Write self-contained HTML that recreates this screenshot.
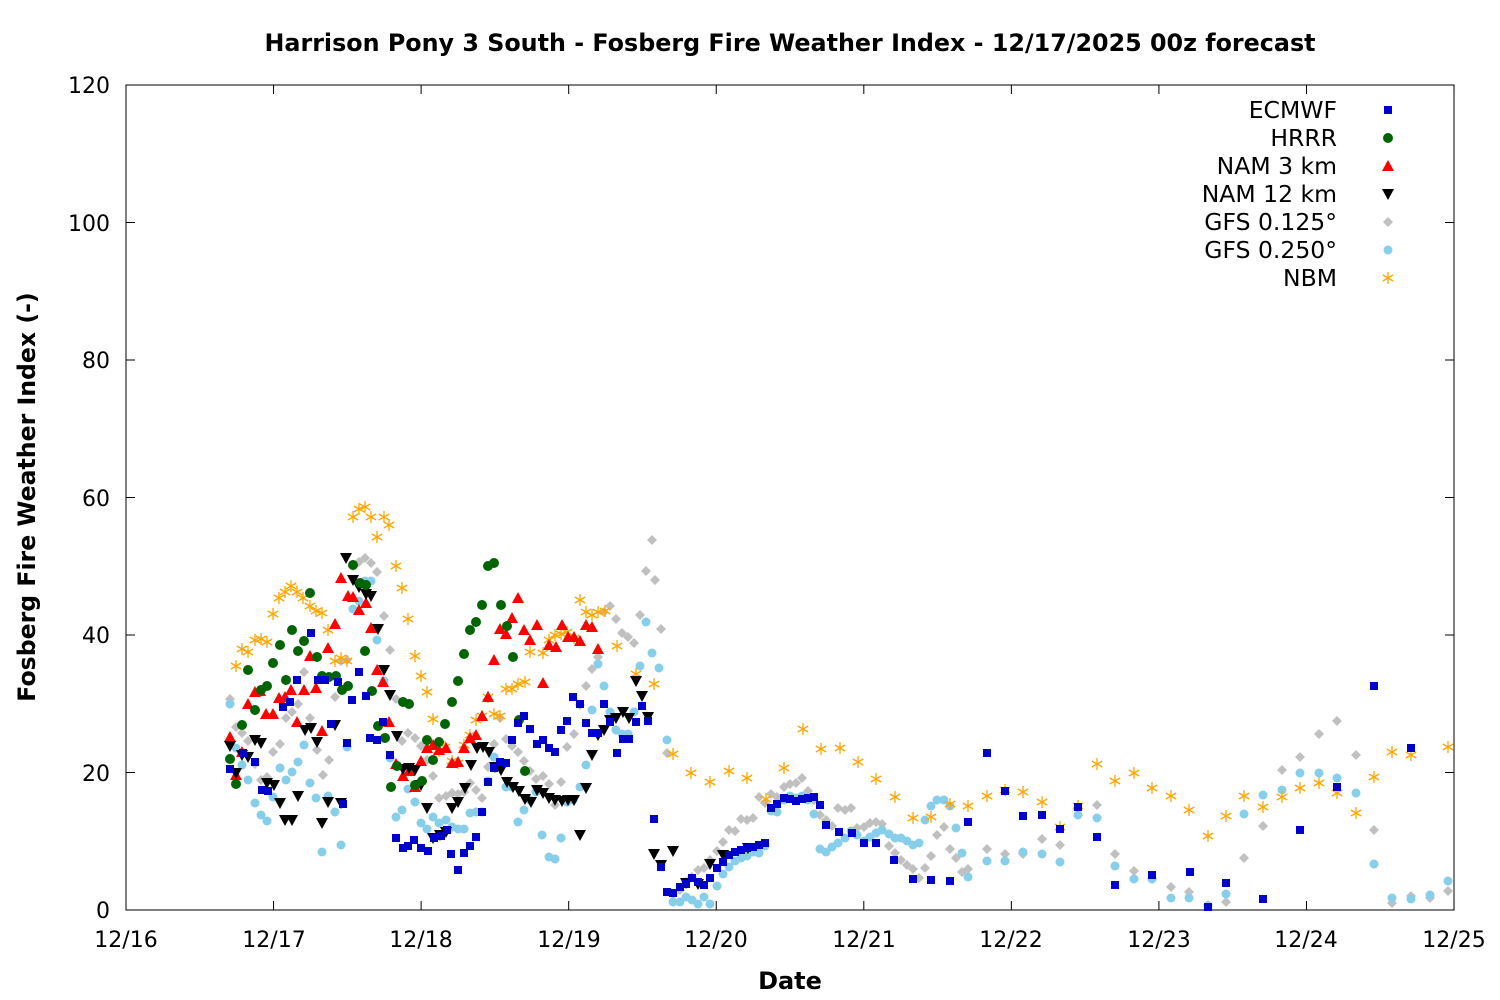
<!DOCTYPE html>
<html><head><meta charset="utf-8"><style>
html,body{margin:0;padding:0;background:#fff}
svg{display:block}
text{font-family:"DejaVu Sans","Liberation Sans",sans-serif;fill:#000}
</style></head><body>
<svg id="s" width="1500" height="1000" viewBox="0 0 1500 1000" xmlns="http://www.w3.org/2000/svg">
<rect width="1500" height="1000" fill="#fff"/>
<text x="790" y="51" font-size="23.8" font-weight="bold" text-anchor="middle">Harrison Pony 3 South - Fosberg Fire Weather Index - 12/17/2025 00z forecast</text>
<rect x="126" y="85" width="1328" height="825" fill="none" stroke="#000" stroke-width="1"/>
<g font-size="22" text-anchor="end">
<text x="110" y="918">0</text><text x="110" y="781">20</text><text x="110" y="643">40</text>
<text x="110" y="506">60</text><text x="110" y="368">80</text><text x="110" y="231">100</text><text x="110" y="93">120</text>
</g>
<g font-size="22" text-anchor="middle">
<text x="126" y="947">12/16</text><text x="274" y="947">12/17</text><text x="421" y="947">12/18</text>
<text x="569" y="947">12/19</text><text x="716" y="947">12/20</text><text x="864" y="947">12/21</text>
<text x="1011" y="947">12/22</text><text x="1159" y="947">12/23</text><text x="1306" y="947">12/24</text>
<text x="1454" y="947">12/25</text>
</g>
<text x="790" y="989" font-size="24" font-weight="bold" text-anchor="middle">Date</text>
<text transform="translate(35,497) rotate(-90)" font-size="23.6" font-weight="bold" text-anchor="middle">Fosberg Fire Weather Index (-)</text>
<g id="ticks" stroke="#000" stroke-width="1"></g>
<g font-size="23.5" text-anchor="end">
<text x="1337" y="118">ECMWF</text><text x="1337" y="146">HRRR</text><text x="1337" y="174">NAM 3 km</text>
<text x="1337" y="202">NAM 12 km</text><text x="1337" y="230">GFS 0.125°</text><text x="1337" y="258">GFS 0.250°</text>
<text x="1337" y="286">NBM</text>
</g>
<g id="pts"></g>
</svg>
<script>
var ns="http://www.w3.org/2000/svg";
var tk=document.getElementById('ticks');
function ln(x1,y1,x2,y2){var l=document.createElementNS(ns,'line');l.setAttribute('x1',x1);l.setAttribute('y1',y1);l.setAttribute('x2',x2);l.setAttribute('y2',y2);tk.appendChild(l);}
for(var i=0;i<=6;i++){var y=910-i*137.5;ln(126,y,135,y);ln(1454,y,1445,y);}
for(var i=0;i<=9;i++){var x=126+i*147.56;ln(x,910,x,901);ln(x,85,x,94);}
var G=document.getElementById('pts');
function el(t,a){var e=document.createElementNS(ns,t);for(var k in a)e.setAttribute(k,a[k]);G.appendChild(e);}
function P(s){var a=s.split(/[\s,]+/).filter(Boolean).map(Number);var r=[];for(var i=0;i<a.length;i+=2)r.push([a[i],a[i+1]]);return r;}
var M={
sq:function(x,y,c){el('rect',{x:x-4,y:y-4,width:8,height:8,fill:c});},
ci:function(x,y,c){el('circle',{cx:x,cy:y,r:5,fill:c});},
tu:function(x,y,c){el('polygon',{points:(x)+','+(y-6)+' '+(x-6)+','+(y+5)+' '+(x+6)+','+(y+5),fill:c});},
td:function(x,y,c){el('polygon',{points:(x)+','+(y+6)+' '+(x-6)+','+(y-5)+' '+(x+6)+','+(y-5),fill:c});},
di:function(x,y,c){el('polygon',{points:x+','+(y-5)+' '+(x+5)+','+y+' '+x+','+(y+5)+' '+(x-5)+','+y,fill:c});},
hx:function(x,y,c){el('circle',{cx:x,cy:y,r:4.5,fill:c});},
st:function(x,y,c){var a={stroke:c,'stroke-width':1.3};
 [[0,-6,0,6],[-5.2,-3,5.2,3],[-5.2,3,5.2,-3]].forEach(function(d){el('line',Object.assign({x1:x+d[0],y1:y+d[1],x2:x+d[2],y2:y+d[3]},a));});}
};
var S=[
['di','#c0c0c0',"230,699 236,727 242,733 248,741 255,764 261,780 267,777 273,752 280,744 286,718 292,712 298,704 304,672 310,718 317,750 323,775 329,760 335,697 341,661 347,660 353,566 359,562 365,558 371,563 377,572 384,616 390,650 396,699 402,741 408,733 415,738 421,746 427,760 433,776 439,798 446,796 452,793 458,794 464,792 470,783 476,790 482,798 488,767 494,744 500,718 506,739 512,746 518,752 524,761 530,771 536,779 543,776 549,784 555,805 561,782 567,747 574,734 580,705 586,686 592,669 598,657 604,612 610,606 616,619 622,633 628,637 634,643 640,615 646,571 652,540 655,580 661,629 667,753 673,894 680,890 686,882 692,877 698,870 704,868 710,860 717,851 723,842 729,830 735,831 741,819 747,820 753,818 759,797 765,803 771,794 777,797 784,787 790,784 796,783 802,778 808,791 814,800 820,815 826,820 832,826 838,808 845,810 851,808 857,828 864,827 870,823 876,822 882,824 889,846 895,853 901,860 907,865 913,869 919,878 925,868 931,856 937,835 944,827 950,849 956,858 962,872 968,869 987,849 1005,854 1023,854 1042,839 1060,845 1078,808 1097,805 1115,854 1134,871 1152,879 1171,887 1189,892 1208,905 1226,902 1244,858 1263,826 1282,770 1300,757 1319,734 1337,721 1356,755 1374,830 1392,903 1411,896 1430,898 1448,891"],
['hx','#87ceeb',"230,704 236,748 242,765 248,780 255,803 261,815 267,821 273,797 280,768 286,780 292,772 298,762 304,745 310,783 316,798 322,852 328,796 335,812 341,845 347,747 353,609 359,601 365,581 371,581 377,640 384,681 390,758 396,817 402,810 408,789 415,802 421,823 427,829 433,817 439,823 446,820 452,827 458,829 464,829 470,813 476,812 482,812 488,781 494,757 500,767 506,787 512,787 518,822 524,810 530,800 536,792 542,835 549,857 555,859 561,838 567,802 573,800 580,787 586,765 592,710 598,664 604,686 610,712 616,730 622,734 628,734 634,712 640,666 646,622 652,653 659,668 667,740 673,902 680,902 686,897 692,900 698,904 704,897 710,904 717,886 723,874 729,867 735,861 741,858 747,856 753,852 759,853 765,846 771,811 777,812 784,800 790,796 796,798 802,796 808,800 814,814 820,849 826,852 832,847 838,843 845,838 851,831 857,835 864,841 870,837 876,833 882,830 889,834 895,838 901,838 907,841 913,845 919,843 925,820 931,806 937,800 944,800 950,806 956,828 962,853 968,877 987,861 1005,861 1023,852 1042,854 1060,862 1078,815 1097,818 1115,866 1134,879 1152,879 1171,898 1189,898 1208,906 1226,894 1244,814 1263,795 1282,790 1300,773 1319,773 1337,778 1356,793 1374,864 1392,898 1411,899 1430,895 1448,881"],
['st','#ffa500',"236,666 242,649 248,652 255,640 261,639 267,642 273,614 279,598 285,592 291,586 297,592 303,598 310,606 316,611 322,613 328,630 335,661 341,658 347,661 353,517 359,509 365,507 371,517 377,537 384,517 389,525 396,566 402,588 408,619 415,656 421,676 427,692 433,719 439,751 445,747 452,761 458,763 464,745 470,735 476,720 482,716 488,697 494,714 500,716 506,689 512,689 518,684 525,682 530,652 543,653 549,640 555,635 561,634 567,632 574,638 580,600 586,612 592,615 598,612 605,611 617,646 636,674 654,684 673,754 691,773 710,782 729,771 747,778 766,799 784,768 803,729 821,749 840,748 858,762 876,779 895,797 913,818 931,817 950,804 968,806 987,796 1005,790 1023,792 1042,802 1060,827 1078,806 1097,764 1115,781 1134,773 1152,788 1171,796 1189,810 1208,836 1226,816 1244,796 1263,807 1282,797 1300,788 1319,783 1337,793 1356,813 1374,777 1392,752 1411,755 1448,747"],
['tu','#ff0000',"230,737 236,775 242,752 248,704 255,692 260,691 266,714 273,714 279,698 285,697 291,690 297,722 304,690 310,656 316,688 322,731 328,648 335,624 341,578 348,596 353,597 359,610 366,603 371,628 377,670 383,682 389,722 396,764 403,776 409,771 415,787 421,761 427,748 433,745 439,750 446,748 452,763 458,762 464,748 470,738 476,735 482,716 488,697 494,660 500,629 506,634 512,618 518,598 524,630 530,640 537,625 543,683 549,645 556,647 562,625 568,637 574,637 580,641 586,625 592,627 598,649"],
['td','#000000',"230,746 236,773 242,755 248,757 255,740 261,743 267,783 274,785 280,803 285,820 292,820 298,796 305,730 311,728 317,742 322,823 328,802 335,725 341,803 346,558 353,580 359,587 366,594 371,596 378,629 384,670 390,695 397,736 403,769 409,768 415,770 421,785 427,808 433,838 440,835 446,832 452,808 458,802 465,788 471,765 477,748 483,747 489,752 495,767 501,770 507,782 513,787 519,791 525,799 531,802 537,790 543,793 549,798 555,800 562,801 568,800 574,800 580,835 586,788 592,755 598,735 604,730 610,720 616,718 623,712 629,718 636,681 642,696 648,717 654,854 661,865 673,851 686,883 698,884 710,864 723,855 748,848"],
['ci','#006400',"230,759 236,784 242,725 248,670 255,710 261,690 267,686 273,663 280,645 286,680 292,630 298,651 304,641 310,593 317,657 322,676 329,677 336,676 342,690 348,686 353,565 360,583 366,585 365,651 372,691 378,726 385,738 391,787 397,766 403,702 409,704 415,785 422,781 427,740 433,760 439,742 445,724 452,702 458,681 464,654 470,630 476,622 482,605 488,566 494,563 501,605 507,626 513,657 519,720 525,771"],
['sq','#0000cc',"230,769 243,753 255,762 262,790 268,791 283,707 290,702 297,680 311,633 318,680 325,680 331,724 338,682 343,804 347,743 352,700 359,672 366,696 370,738 377,740 383,722 390,755 396,838 403,848 408,846 414,840 421,848 428,851 434,838 441,836 447,830 451,854 458,870 464,853 470,846 476,837 482,812 488,782 494,768 500,762 506,763 512,740 518,723 524,716 530,729 537,744 543,740 549,748 555,752 561,730 567,721 573,697 580,704 586,723 592,733 598,733 604,704 610,722 617,753 623,739 629,739 636,722 642,706 648,721 654,819 661,867 667,892 673,893 680,887 686,884 692,878 698,882 704,885 710,878 717,868 723,862 729,855 735,852 741,850 747,848 753,847 759,845 765,843 771,808 777,804 784,798 790,799 796,801 802,799 808,798 814,797 820,805 826,825 839,832 852,833 864,843 876,843 894,860 913,879 931,880 950,881 968,822 987,753 1005,791 1023,816 1042,815 1060,829 1078,807 1097,837 1115,885 1152,875 1190,872 1208,907 1226,883 1263,899 1300,830 1337,787 1374,686 1411,748"]
];
S.forEach(function(s){P(s[2]).forEach(function(p){M[s[0]](p[0],p[1],s[1]);});});
var L=[['sq','#0000cc'],['ci','#006400'],['tu','#ff0000'],['td','#000000'],['di','#c0c0c0'],['hx','#87ceeb'],['st','#ffa500']];
L.forEach(function(l,i){M[l[0]](1388,110+28*i,l[1]);});
</script>
</body></html>
